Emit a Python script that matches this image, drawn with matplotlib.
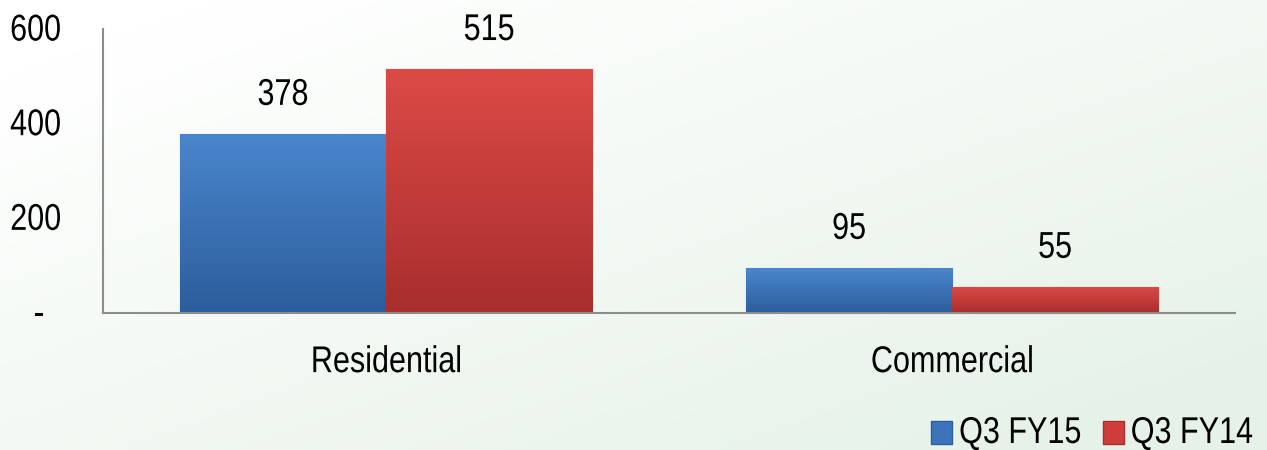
import matplotlib.pyplot as plt
import numpy as np
from matplotlib.patches import Patch
from matplotlib.colors import LinearSegmentedColormap
from matplotlib.patheffects import AbstractPathEffect
from matplotlib.transforms import Affine2D

plt.rcParams['font.family'] = ['Liberation Sans', 'DejaVu Sans']

# データ
categories = ['Residential', 'Commercial']
series_names = ['Q3 FY15', 'Q3 FY14']
q3_fy15 = [378, 95]
q3_fy14 = [515, 55]
yticks = [0, 200, 400, 600]
ytick_labels = ['-  ', '200', '400', '600']


# 元の図の文字は縦長なので、ベースラインを基準に縦に引き伸ばす
class Stretch(AbstractPathEffect):
    def __init__(self, sy):
        super().__init__()
        self.sy = sy

    def draw_path(self, renderer, gc, tpath, affine, rgbFace=None):
        renderer.draw_path(gc, tpath, Affine2D().scale(1, self.sy) + affine, rgbFace)


tall = [Stretch(1.22)]
FS = 22

fig = plt.figure(figsize=(12.67, 4.5), dpi=100)

# 背景のグラデーション (左上が白、右下が薄い緑)
bg = fig.add_axes([0, 0, 1, 1], zorder=-10)
gx, gy = np.meshgrid(np.linspace(0, 1, 300), np.linspace(0, 1, 120))
g = np.clip((gx * 0.6 + gy * 0.6) - 0.1, 0, 1)
bg_cmap = LinearSegmentedColormap.from_list('bg', ['#ffffff', '#e6f2e8'])
bg.imshow(g, cmap=bg_cmap, aspect='auto', extent=[0, 1, 0, 1], origin='upper')
bg.axis('off')

ax = fig.add_axes([0.0813, 0.3044, 0.8934, 0.6311])
ax.patch.set_alpha(0)

x = np.arange(len(categories))
w = 0.364
colors = ['#3c74bc', '#cf3d3b']
dark = ['#2c5d9c', '#a82e2e']
light = ['#4a86cc', '#dc4a46']

bars1 = ax.bar(x - w / 2, q3_fy15, w, color=colors[0], edgecolor=dark[0], linewidth=0.8)
bars2 = ax.bar(x + w / 2, q3_fy14, w, color=colors[1], edgecolor=dark[1], linewidth=0.8)

# 棒に縦のグラデーションをかける
grad = np.linspace(0, 1, 100).reshape(-1, 1)
for bars, i in [(bars1, 0), (bars2, 1)]:
    cm = LinearSegmentedColormap.from_list('b%d' % i, [dark[i], light[i]])
    for b in bars:
        x0, y0 = b.get_x(), b.get_y()
        im = ax.imshow(grad, cmap=cm, aspect='auto', origin='lower',
                       extent=[x0, x0 + b.get_width(), y0, y0 + b.get_height()], zorder=2)
        im.set_clip_path(b)
    for b in bars:
        ax.annotate(str(int(b.get_height())), (b.get_x() + b.get_width() / 2, b.get_height()),
                    xytext=(0, 16), textcoords='offset points', ha='center', va='bottom',
                    fontsize=FS, path_effects=tall)

ax.set_xlim(-0.5, 1.5)
ax.set_ylim(0, 600)
ax.set_xticks(x)
ax.set_xticklabels(categories, fontsize=FS)
ax.set_yticks(yticks)
ax.set_yticklabels(ytick_labels, fontsize=FS)
ax.tick_params(axis='x', length=0, pad=26)
ax.tick_params(axis='y', length=0, pad=30)
for t in ax.get_xticklabels() + ax.get_yticklabels():
    t.set_path_effects(tall)
for s in ['top', 'right']:
    ax.spines[s].set_visible(False)
for s in ['left', 'bottom']:
    ax.spines[s].set_color('#8c8c8c')
    ax.spines[s].set_linewidth(1.5)

handles = [Patch(facecolor=colors[0], edgecolor=dark[0]),
           Patch(facecolor=colors[1], edgecolor=dark[1])]
leg = fig.legend(handles, series_names, loc='lower right', bbox_to_anchor=(1253 / 1267, 0.0),
                 ncol=2, frameon=False, fontsize=FS, handlelength=0.7, handleheight=0.75,
                 handletextpad=0.22, columnspacing=0.7, borderpad=0, borderaxespad=0)
for t in leg.get_texts():
    t.set_path_effects(tall)

plt.savefig('out.png', dpi=100)
